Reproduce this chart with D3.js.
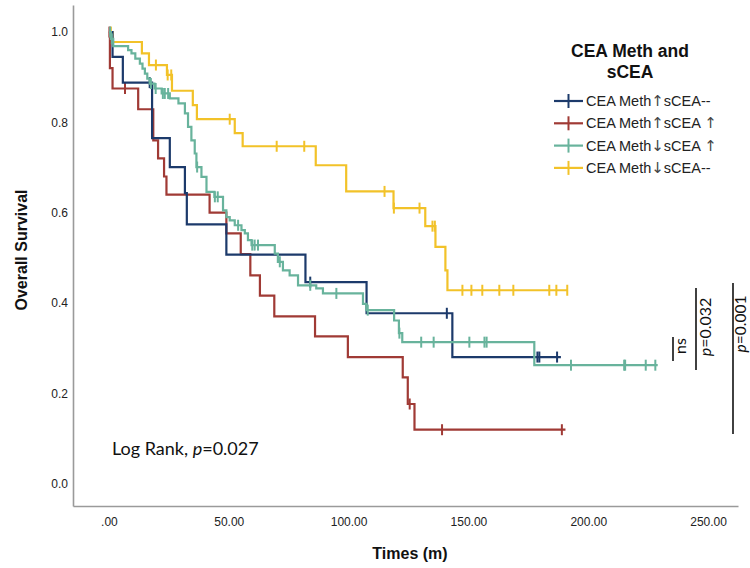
<!DOCTYPE html>
<html>
<head>
<meta charset="utf-8">
<script src="https://cdn.jsdelivr.net/npm/d3@7"></script>
<style>
  body { margin: 0; background: white; }
</style>
</head>
<body>
<div id="my_viz"></div>
<script>
var width = 750,
    height = 568;

// groups and colours
var groups = ["blue", "red", "green", "yellow"];
var colors = {
    blue: "#1c3a6b",
    red: "#a03a35",
    green: "#68b39c",
    yellow: "#f2c229"
};

// event times (months) and survival after each event
var blueTimes = [1.5, 5.8, 18, 25.4, 31.7, 32.5, 49, 82, 107.5, 143.3];
var blueSurv = [0.945, 0.888, 0.765, 0.701, 0.643, 0.574, 0.507, 0.446, 0.377, 0.280];
var blueCensor = [17, 84, 141, 178.8, 179.6, 187];
var blueEnd = 188.6;

var redTimes = [0.4, 1.5, 12.2, 18.5, 20.5, 23, 24, 42, 49, 55, 59, 63, 69, 86, 99.7, 122.6, 124.7, 127.5];
var redSurv = [0.92, 0.875, 0.829, 0.76, 0.72, 0.68, 0.64, 0.600, 0.554, 0.508, 0.461, 0.416, 0.370, 0.326, 0.280, 0.235, 0.176, 0.119];
var redCensor = [0.2, 6.7, 125.5, 139, 189];
var redEnd = 190.5;

var greenTimes = [0.8, 1.8, 8, 9.4, 11, 12.9, 14, 15, 16, 17, 19, 22, 25.4, 29, 31.7, 33, 34.4, 35.8, 36.5, 38.6, 40.7, 44, 47.6, 49, 50.4, 52.5, 55.3, 56.7, 58, 59.5, 69.2, 70.5, 72.6, 75.4, 78.9, 86.5, 89.3, 106, 107.4, 119, 121, 122.4, 177.5];
var greenSurv = [0.985, 0.969, 0.960, 0.953, 0.941, 0.930, 0.919, 0.908, 0.897, 0.886, 0.875, 0.864, 0.853, 0.842, 0.820, 0.790, 0.760, 0.731, 0.701, 0.679, 0.646, 0.635, 0.605, 0.590, 0.583, 0.572, 0.561, 0.554, 0.539, 0.528, 0.509, 0.491, 0.472, 0.461, 0.439, 0.432, 0.421, 0.398, 0.384, 0.361, 0.333, 0.313, 0.262];
var greenCensor = [0.5, 1.2, 17.5, 19.5, 22.5, 23.3, 24.7, 36.8, 44.2, 45.4, 53.9, 59.8, 60.8, 62.2, 71.3, 84, 94.9, 108, 121.2, 130.3, 135.5, 150.4, 156.7, 157.6, 192.8, 215, 215.4, 224, 228];
var greenEnd = 229;

var yellowTimes = [1.5, 13.75, 16.7, 24.2, 26.3, 35, 36.7, 52.5, 55.8, 86.3, 99, 118.75, 132, 136.25, 140.4, 141.25];
var yellowSurv = [0.978, 0.953, 0.927, 0.905, 0.87, 0.838, 0.807, 0.776, 0.747, 0.705, 0.647, 0.610, 0.570, 0.524, 0.472, 0.428];
var yellowCensor = [0.8, 19.6, 24.5, 26, 50.4, 70, 81.5, 115, 118.9, 129.6, 135, 136, 147.5, 151.25, 155.8, 162.9, 168.75, 183.75, 186.7, 191.25];
var yellowEnd = 191.25;

var xTicks = [0, 50, 100, 150, 200, 250];
var yTicks = [0, 0.2, 0.4, 0.6, 0.8, 1.0];

var curves = {
    blue: { times: blueTimes, surv: blueSurv, censor: blueCensor, end: blueEnd },
    red: { times: redTimes, surv: redSurv, censor: redCensor, end: redEnd },
    green: { times: greenTimes, surv: greenSurv, censor: greenCensor, end: greenEnd },
    yellow: { times: yellowTimes, surv: yellowSurv, censor: yellowCensor, end: yellowEnd }
};

var svg = d3.select("#my_viz")
    .append("svg")
    .attr("width", width)
    .attr("height", height)
    .style("background", "white");

var x = d3.scaleLinear().domain([-15, 262.5]).range([73, 738]);
var y = d3.scaleLinear().domain([-0.05, 1.06]).range([506, 5]);

// axes
var xAxis = svg.append("g")
    .attr("transform", "translate(0,506)")
    .call(d3.axisBottom(x).tickValues(xTicks).tickSize(0).tickPadding(11)
        .tickFormat(function (d) { return d === 0 ? ".00" : d3.format(".2f")(d); }));

var yAxis = svg.append("g")
    .attr("transform", "translate(73,0)")
    .call(d3.axisLeft(y).tickValues(yTicks).tickSize(0).tickPadding(5)
        .tickFormat(d3.format(".1f")));

[xAxis, yAxis].forEach(function (a) {
    a.select(".domain").attr("stroke", "#9a9a9a").attr("stroke-width", 1.6);
    a.selectAll("text")
        .attr("font-family", "Liberation Sans, Arial, sans-serif")
        .attr("font-size", 12)
        .attr("fill", "#222");
});

svg.append("text")
    .attr("x", 410)
    .attr("y", 559)
    .attr("text-anchor", "middle")
    .attr("font-family", "Liberation Sans, Arial, sans-serif")
    .attr("font-weight", "bold")
    .attr("font-size", 16)
    .attr("fill", "#111")
    .text("Times (m)");

svg.append("text")
    .attr("transform", "translate(27,250) rotate(-90)")
    .attr("text-anchor", "middle")
    .attr("font-family", "Liberation Sans, Arial, sans-serif")
    .attr("font-weight", "bold")
    .attr("font-size", 16)
    .attr("fill", "#111")
    .text("Overall Survival");

// survival curves
var line = d3.line()
    .x(function (d) { return x(d[0]); })
    .y(function (d) { return y(d[1]); })
    .curve(d3.curveStepAfter);

function stepPoints(c) {
    var pts = [[0, 1]];
    c.times.forEach(function (t, i) { pts.push([t, c.surv[i]]); });
    pts.push([c.end, c.surv[c.surv.length - 1]]);
    return pts;
}

function survAt(c, t) {
    var i = d3.bisectRight(c.times, t);
    return i === 0 ? 1 : c.surv[i - 1];
}

var drawOrder = ["yellow", "red", "blue", "green"];
drawOrder.forEach(function (g) {
    var c = curves[g];
    svg.append("path")
        .attr("d", line(stepPoints(c)))
        .attr("fill", "none")
        .attr("stroke", colors[g])
        .attr("stroke-width", 2.2);

    svg.append("g").selectAll("line")
        .data(c.censor)
        .enter().append("line")
        .attr("x1", function (d) { return x(d); })
        .attr("x2", function (d) { return x(d); })
        .attr("y1", function (d) { return y(survAt(c, d)) - 5.5; })
        .attr("y2", function (d) { return y(survAt(c, d)) + 5.5; })
        .attr("stroke", colors[g])
        .attr("stroke-width", 2);
});

// legend
var legendTitle = svg.append("text")
    .attr("text-anchor", "middle")
    .attr("font-family", "Liberation Sans, Arial, sans-serif")
    .attr("font-weight", "bold")
    .attr("font-size", 17.5)
    .attr("fill", "#111");
legendTitle.append("tspan").attr("x", 630).attr("y", 57).text("CEA Meth and");
legendTitle.append("tspan").attr("x", 630).attr("y", 78).text("sCEA");

var legendLabels = [
    ["CEA Meth", "↑", "sCEA--", ""],
    ["CEA Meth", "↑", "sCEA ", "↑"],
    ["CEA Meth", "↓", "sCEA ", "↑"],
    ["CEA Meth", "↓", "sCEA--", ""]
];

var legend = svg.append("g")
    .attr("transform", "translate(554, 101)")
    .selectAll(".legends").data(groups)
    .enter().append("g")
    .classed("legends", true)
    .attr("transform", function (d, i) { return "translate(0," + i * 22.3 + ")"; });

legend.append("line")
    .attr("x1", 0).attr("x2", 29).attr("y1", 0).attr("y2", 0)
    .attr("stroke", function (d) { return colors[d]; })
    .attr("stroke-width", 2.2);
legend.append("line")
    .attr("x1", 14.5).attr("x2", 14.5).attr("y1", -7).attr("y2", 7)
    .attr("stroke", function (d) { return colors[d]; })
    .attr("stroke-width", 2);

var lt = legend.append("text")
    .attr("x", 32)
    .attr("y", 5)
    .attr("font-family", "Liberation Sans, Arial, sans-serif")
    .attr("font-size", 14.5)
    .attr("fill", "#222");
lt.append("tspan").text(function (d, i) { return legendLabels[i][0]; });
lt.append("tspan").attr("font-family", "DejaVu Sans").attr("font-size", 15).attr("fill", "#444")
    .text(function (d, i) { return legendLabels[i][1]; });
lt.append("tspan").text(function (d, i) { return legendLabels[i][2]; });
lt.append("tspan").attr("font-family", "DejaVu Sans").attr("font-size", 15).attr("fill", "#444")
    .text(function (d, i) { return legendLabels[i][3]; });

// log rank
var lr = svg.append("text")
    .attr("x", 112)
    .attr("y", 455)
    .attr("font-family", "Lato, 'Open Sans', sans-serif")
    .attr("font-size", 18)
    .attr("fill", "#111");
lr.append("tspan").text("Log Rank, ");
lr.append("tspan").attr("font-style", "italic").text("p");
lr.append("tspan").text("=0.027");

// pairwise comparisons
var pairs = [
    { label: null, text: "ns", lineX: 673, y0: 337, y1: 361, textX: 686, textY: 346, size: 16 },
    { label: "p", text: "=0.032", lineX: 696, y0: 288, y1: 370, textX: 711, textY: 327, size: 16 },
    { label: "p", text: "=0.001", lineX: 733, y0: 283, y1: 434, textX: 745.5, textY: 324, size: 15.5 }
];

pairs.forEach(function (p) {
    svg.append("line")
        .attr("x1", p.lineX).attr("x2", p.lineX)
        .attr("y1", p.y0).attr("y2", p.y1)
        .attr("stroke", "#111")
        .attr("stroke-width", 1.6);
    var t = svg.append("text")
        .attr("transform", "translate(" + p.textX + "," + p.textY + ") rotate(-90)")
        .attr("text-anchor", "middle")
        .attr("font-family", "Lato, 'Open Sans', sans-serif")
        .attr("font-size", p.size)
        .attr("fill", "#111");
    if (p.label) t.append("tspan").attr("font-style", "italic").text(p.label);
    t.append("tspan").text(p.text);
});
</script>
</body>
</html>
